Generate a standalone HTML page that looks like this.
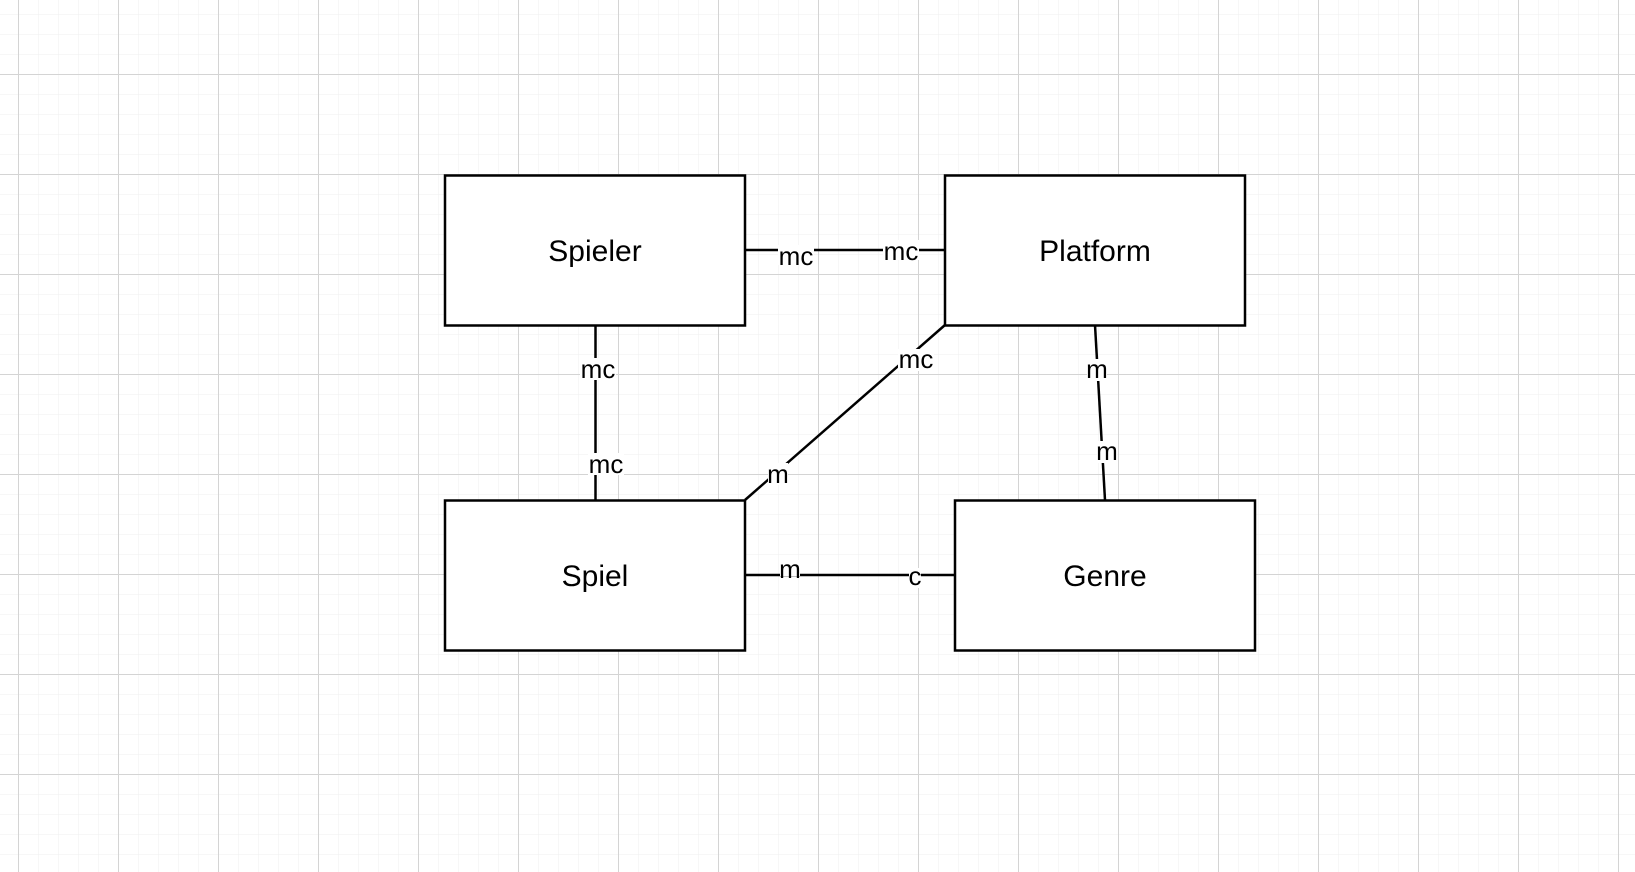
<!DOCTYPE html>
<html><head><meta charset="utf-8"><style>
html,body{margin:0;padding:0;background:#fff;}
svg{display:block;}
text{font-family:"Liberation Sans",Arial,sans-serif;fill:#000;}
</style></head><body>
<svg width="1635" height="872" viewBox="0 0 1635 872" xmlns="http://www.w3.org/2000/svg">
<defs>
<pattern id="minor" x="18" y="14" width="20" height="20" patternUnits="userSpaceOnUse">
<path d="M0 0H20M0 0V20" stroke="#efefef" stroke-width="1" fill="none"/>
</pattern>
<pattern id="major" x="18" y="74" width="100" height="100" patternUnits="userSpaceOnUse">
<path d="M0 0.5H100M0.5 0V100" stroke="#d4d4d4" stroke-width="1" fill="none"/>
</pattern>
</defs>
<rect width="1635" height="872" fill="url(#minor)"/>
<rect width="1635" height="872" fill="url(#major)"/>
<g stroke="#000" stroke-width="2.5" fill="none">
<line x1="745" y1="250" x2="945" y2="250"/>
<line x1="595.5" y1="325" x2="595.5" y2="500"/>
<line x1="945" y1="325" x2="745" y2="500"/>
<line x1="1095" y1="325" x2="1105" y2="500"/>
<line x1="745" y1="575" x2="955" y2="575"/>
</g>
<g font-size="26" text-anchor="middle">
<rect x="778" y="245" width="36" height="20" fill="#fff"/><text x="796" y="265">mc</text>
<rect x="883" y="240" width="36" height="20" fill="#fff"/><text x="901" y="260">mc</text>
<rect x="580" y="358" width="36" height="22" fill="#fff"/><text x="598" y="378">mc</text>
<rect x="588" y="453" width="36" height="22" fill="#fff"/><text x="606" y="473">mc</text>
<rect x="898" y="349" width="36" height="22" fill="#fff"/><text x="916" y="368">mc</text>
<rect x="768" y="463" width="20" height="22" fill="#fff"/><text x="778" y="483">m</text>
<rect x="1087" y="359" width="20" height="22" fill="#fff"/><text x="1097" y="378">m</text>
<rect x="1097" y="441" width="20" height="22" fill="#fff"/><text x="1107" y="460">m</text>
<rect x="780" y="560" width="20" height="16" fill="#fff"/><text x="790" y="578">m</text>
<rect x="909" y="568" width="12" height="20" fill="#fff"/><text x="915" y="585">c</text>
</g>
<g stroke="#000" stroke-width="2.5" fill="#fff">
<rect x="445" y="175.5" width="300" height="150"/>
<rect x="945" y="175.5" width="300" height="150"/>
<rect x="445" y="500.5" width="300" height="150"/>
<rect x="955" y="500.5" width="300" height="150"/>
</g>
<g font-size="30" text-anchor="middle">
<text x="595" y="261">Spieler</text>
<text x="1095" y="261">Platform</text>
<text x="595" y="586">Spiel</text>
<text x="1105" y="586">Genre</text>
</g>
</svg>
</body></html>
